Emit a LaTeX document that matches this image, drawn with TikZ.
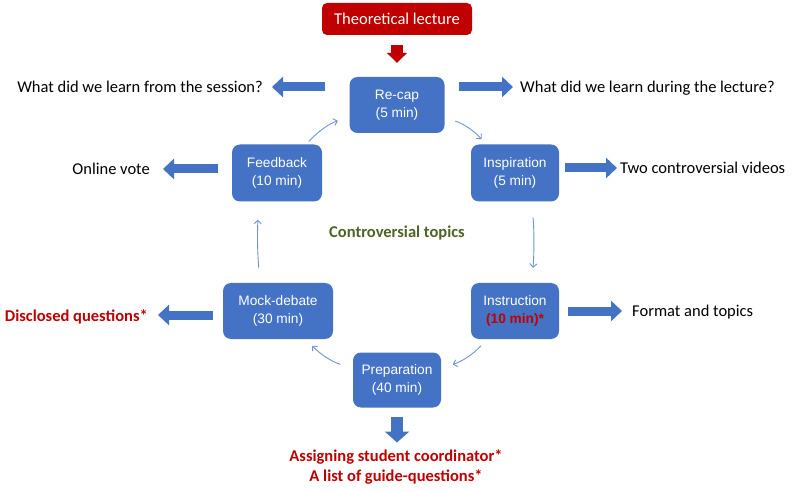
\documentclass[tikz,border=0pt]{standalone}
\usepackage{fontspec}
\newfontfamily\lblfont{Carlito}
\newfontfamily\boxfont{Liberation Sans}
\usetikzlibrary{arrows.meta}
\definecolor{boxblue}{HTML}{4472C4}
\definecolor{linkblue}{HTML}{6F93D3}
\definecolor{darkred}{HTML}{C00000}
\definecolor{topicgreen}{HTML}{4F6228}

\begin{document}
\begin{tikzpicture}[
    x=1bp, y=-1bp,
    font=\lblfont\fontsize{16.5bp}{20bp}\selectfont,
    stage/.style={fill=boxblue, rounded corners=8bp, text=white, align=center, font=\boxfont\fontsize{13.7bp}{18bp}\selectfont, minimum height=56bp, inner sep=0pt},
    side/.style={inner sep=0pt, text height=12bp, text depth=0bp, font=\lblfont\fontsize{16.5bp}{20bp}\selectfont},
    hot/.style={side, text=darkred, font=\lblfont\bfseries\fontsize{16.5bp}{20bp}\selectfont},
    fat/.style={draw=boxblue, line width=9bp, -{Triangle[width=20bp,length=11bp]}},
    cyc/.style={draw=linkblue, line width=0.9bp, -{Straight Barb[length=3.5bp,width=7bp]}},
  ]
  \useasboundingbox (0,0) rectangle (795,492);

  % the six stages
  \node[fill=darkred, rounded corners=5bp, text=white, minimum width=150bp, minimum height=32bp, inner sep=0pt] (lec) at (397,19) {Theoretical lecture};
  \node[stage, minimum width=95bp] (rc) at (397,105) {Re-cap\\(5 min)};
  \node[stage, minimum width=90bp, minimum height=57bp] (fb) at (277,173) {Feedback\\(10 min)};
  \node[stage, minimum width=88bp, minimum height=57bp] (insp) at (515,173) {Inspiration\\(5 min)};
  \node[stage, minimum width=110bp] (mock) at (278,311) {Mock-debate\\(30 min)};
  \node[stage, minimum width=88bp] (instr) at (515,311) {Instruction\\\textcolor{darkred}{\bfseries(10 min)*}};
  \node[stage, minimum width=88bp, minimum height=55bp] (prep) at (397,380) {Preparation\\(40 min)};

  \node[text=topicgreen, font=\lblfont\bfseries\fontsize{16.5bp}{20bp}\selectfont] (topic) at (397,233) {Controversial topics};

  % outcomes
  \node[side, anchor=east] (q1) at (263,87) {What did we learn from the session?};
  \node[side, anchor=west] (q2) at (520,87) {What did we learn during the lecture?};
  \node[side, anchor=east] (vote) at (150,169) {Online vote};
  \node[side, anchor=west] (vids) at (620,168) {Two controversial videos};
  \node[hot, anchor=east] (disc) at (148,315) {Disclosed questions*};
  \node[side, anchor=west] (fmt) at (632,311) {Format and topics};
  \node[text=darkred, align=center, inner sep=0pt, font=\lblfont\bfseries\fontsize{16.5bp}{20bp}\selectfont] (asg) at (396,467) {Assigning student coordinator*\\A list of guide-questions*};

  \draw[draw=darkred, line width=12bp, -{Triangle[width=20bp,length=10bp]}, shorten <=10bp, shorten >=14bp] (lec) -- (rc);

  \draw[fat, shorten <=24bp, shorten >=9bp] (rc.west |- q1.east) -- (q1.east);
  \draw[fat, shorten <=14bp, shorten >=7bp] (rc.east |- q2.west) -- (q2.west);
  \draw[fat, shorten <=14bp, shorten >=13bp] (fb.west |- vote.east) -- (vote.east);
  \draw[fat, shorten <=6bp, shorten >=3bp] (insp.east |- vids.west) -- (vids.west);
  \draw[fat, shorten <=10bp, shorten >=10bp] (mock.west |- disc.east) -- (disc.east);
  \draw[fat, shorten <=9bp, shorten >=10bp] (instr.east |- fmt.west) -- (fmt.west);
  \draw[fat, line width=12bp, -{Triangle[width=24bp,length=11bp]}, shorten <=9bp, shorten >=7bp] (prep.south) -- (prep.south |- asg.north);

  % the cycle
  \draw[cyc, shorten <=4bp, shorten >=12bp] (fb) to[bend left=15] (rc);
  \draw[cyc, shorten <=11bp, shorten >=7bp] (rc) to[bend left=15] (insp);
  \draw[cyc, shorten <=16bp, shorten >=15bp] ([xshift=17bp]insp.south) to[bend left=4] ([xshift=17bp]instr.north);
  \draw[cyc, shorten <=9bp, shorten >=12bp] (instr) to[bend left=15] (prep);
  \draw[cyc, shorten <=13bp, shorten >=9bp] (prep) to[bend left=15] (mock);
  \draw[cyc, shorten <=15bp, shorten >=18bp] ([xshift=-18bp]mock.north) to[bend left=4] ([xshift=-18bp]fb.south);
\end{tikzpicture}
\end{document}
